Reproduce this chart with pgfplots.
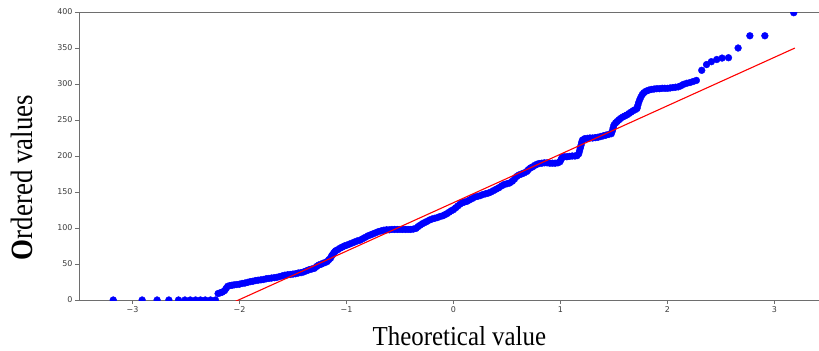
\documentclass[border=0pt]{standalone}
\usepackage{fontspec}
\setmainfont{Liberation Serif}
\newfontfamily\ticksfont{DejaVu Sans}
\usepackage{pgfplots}
\pgfplotsset{compat=1.18}
\definecolor{spine}{RGB}{110,110,110}
\definecolor{ticktext}{RGB}{60,60,60}
\begin{document}
\begin{tikzpicture}
\begin{axis}[
  name=qq,
  at={(0,0)}, anchor=south west,
  scale only axis,
  width=740bp, height=288bp,
  xmin=-3.5, xmax=3.416,
  ymin=0, ymax=400,
  axis x line*=box, axis y line*=left,
  axis line style={spine, line width=0.8bp},
  xtick={-3,-2,-1,0,1,2,3},
  xticklabels={−3,−2,−1,0,1,2,3},
  ytick={0,50,100,150,200,250,300,350,400},
  yticklabels={0,50,100,150,200,250,300,350,400},
  xtick pos=bottom, ytick pos=left,
  tick align=outside,
  major tick length=4bp,
  tick style={spine, line width=0.7bp},
  tick label style={font=\ticksfont\fontsize{8}{8}\selectfont, text=ticktext},
  xticklabel style={yshift=1bp},
  yticklabel style={xshift=1bp},
  every axis x label/.style={at={(axis description cs:0.514,0)}, anchor=base, yshift=-45bp},
  every axis y label/.style={at={(axis description cs:0,0.425)}, rotate=90, anchor=base, yshift=46bp},
  xlabel={\fontsize{25}{28}\selectfont\scalebox{1}[1.1]{Theoretical value}},
  ylabel={\fontsize{27}{30}\selectfont\scalebox{1}[1.15]{\textbf{O}rdered values}},
  clip=true,
  clip marker paths=true,
]
% ordered sample against normal quantiles
\addplot[only marks, mark=*, mark size=3.4bp, mark options={draw=blue, fill=blue}] coordinates {
(-3.18,0) (-2.91,0) (-2.77,0) (-2.66,0) (-2.57,0) (-2.51,0) (-2.46,0) (-2.41,0)
(-2.365,0) (-2.32,0) (-2.27,0) (-2.225,0)
(-2.20,9) (-2.18,10) (-2.16,11) (-2.14,13) (-2.125,16) (-2.11,19) (-2.09,20) (-2.07,20.5)
(-2.05,21) (-2.025,21.5) (-2.00,22) (-1.975,23) (-1.95,23.5) (-1.925,24.5) (-1.90,25.5)
(-1.875,26) (-1.85,27) (-1.825,27.5) (-1.80,28) (-1.775,28.5) (-1.75,29.5) (-1.725,30)
(-1.70,30.5) (-1.675,31) (-1.65,31.5) (-1.625,32.5) (-1.60,33.5) (-1.575,34.5) (-1.55,35)
(-1.525,35.5) (-1.50,36) (-1.475,36.5) (-1.45,37.5) (-1.425,38) (-1.40,39) (-1.375,40.5)
(-1.35,42) (-1.325,43) (-1.30,44) (-1.28,46.5) (-1.26,48.5) (-1.24,49.5) (-1.22,51)
(-1.20,52) (-1.18,53.5) (-1.165,56) (-1.15,58) (-1.14,61) (-1.13,63) (-1.12,65) (-1.11,67)
(-1.10,68.5) (-1.08,70) (-1.06,72) (-1.04,73.5) (-1.02,75) (-1.00,76) (-0.975,77.5)
(-0.95,79) (-0.925,80.5) (-0.90,82) (-0.875,83) (-0.85,85) (-0.825,87) (-0.80,89)
(-0.775,90.5) (-0.75,92) (-0.725,93.5) (-0.70,95) (-0.675,96) (-0.65,97) (-0.625,97.5)
(-0.60,97.5) (-0.575,98) (-0.55,98) (-0.525,98) (-0.50,98) (-0.475,98) (-0.45,98)
(-0.425,98) (-0.40,98) (-0.375,98.5) (-0.35,99.5) (-0.33,102) (-0.31,104) (-0.29,106)
(-0.27,107.5) (-0.25,109) (-0.225,111) (-0.20,112.5) (-0.175,113.5) (-0.15,114.5)
(-0.125,116) (-0.10,117) (-0.08,118.5) (-0.06,120) (-0.04,122) (-0.02,124) (0.00,125.5)
(0.02,128) (0.04,130.5) (0.06,133) (0.08,135) (0.10,136) (0.125,137) (0.15,139)
(0.175,141) (0.20,143) (0.225,144) (0.25,145) (0.275,146.5) (0.30,147.5) (0.325,148.5)
(0.35,150) (0.375,152) (0.40,154) (0.425,156) (0.45,158.5) (0.475,160.5) (0.50,161.5)
(0.525,162.5) (0.55,165) (0.57,168) (0.59,171.5) (0.61,173.5) (0.635,175) (0.66,176.5)
(0.685,178.5) (0.70,181) (0.72,183.5) (0.74,185) (0.76,187) (0.78,188.5) (0.80,189.5)
(0.825,190) (0.85,190.5) (0.875,190.5) (0.90,190) (0.925,190) (0.95,190) (0.975,190.5)
(0.995,192) (1.005,195) (1.015,198) (1.035,199) (1.06,199) (1.085,199.5) (1.11,200)
(1.135,200) (1.155,200.5) (1.17,203) (1.178,207) (1.185,211) (1.192,215) (1.198,219)
(1.205,222) (1.225,224) (1.25,224.5) (1.275,225) (1.30,225) (1.325,225.5) (1.35,226)
(1.375,227) (1.40,228) (1.425,229) (1.45,230) (1.475,231) (1.485,235) (1.492,239)
(1.50,243) (1.515,246) (1.53,248) (1.545,250) (1.56,252) (1.58,254) (1.60,255.5)
(1.62,257) (1.64,259) (1.66,261) (1.68,263) (1.70,264.5) (1.715,266) (1.722,270)
(1.73,274) (1.74,278) (1.752,282) (1.765,285.5) (1.78,288) (1.80,290) (1.825,291.5)
(1.85,292.5) (1.875,293) (1.90,293.5) (1.925,293.5) (1.95,294) (1.975,294) (2.00,294)
(2.025,294.5) (2.05,295) (2.075,295.5) (2.10,296) (2.125,297.5) (2.15,299.5) (2.18,301)
(2.21,302) (2.24,303.5) (2.27,305)
(2.32,319) (2.365,327) (2.41,331) (2.46,334) (2.51,336) (2.57,336.5)
(2.66,350) (2.77,367) (2.91,367) (3.18,399)
};
% least-squares fit line
\addplot[red, line width=1.1bp] coordinates {(-3.19,-79.5) (3.19,349.9)};
\end{axis}
\pgfresetboundingbox
\path[use as bounding box] (-79bp,-51bp) rectangle (740bp,300bp);
\end{tikzpicture}
\end{document}
